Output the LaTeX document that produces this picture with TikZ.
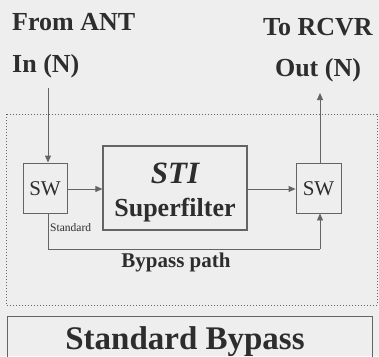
\documentclass[tikz,border=0pt]{standalone}
\usepackage{fontspec}
\setmainfont{Liberation Serif}
\usetikzlibrary{arrows.meta}
\definecolor{bg}{RGB}{238,238,238}
\definecolor{txt}{RGB}{45,45,45}
\definecolor{ln}{RGB}{100,100,100}
\begin{document}
\begin{tikzpicture}[x=1pt,y=-1pt,
  lbl/.style={inner sep=0pt,anchor=base,text=txt,font=\bfseries\fontsize{26}{26}\selectfont},
  swbox/.style={draw=ln,line width=0.9pt,minimum width=44pt,minimum height=50pt,inner sep=0pt,text=txt},
  conn/.style={draw=ln,line width=0.9pt,-{Triangle[length=7pt,width=6pt]}},
  wire/.style={draw=ln,line width=0.9pt}]
\useasboundingbox[fill=bg] (0,0) rectangle (379,356);
% frames
\draw[ln,line width=1pt,dotted] (6,114) rectangle (377,305);
\draw[ln,line width=1pt] (7,360) -- (7,316) -- (372,316) -- (372,360);
% top labels
\node[lbl,anchor=base west] (from) at (12,30) {From ANT};
\node[lbl,anchor=base west] (in) at (12,72) {In (N)};
\node[lbl] (to) at (318,35) {To RCVR};
\node[lbl] (out) at (318,76) {Out (N)};
% boxes
\node[swbox] (swL) at (45,188) {};
\node[inner sep=0pt,anchor=base,text=txt,font=\fontsize{21}{21}\selectfont] (swLt) at (45,195) {SW};
\node[swbox,minimum width=45pt] (swR) at (318.5,188) {};
\node[inner sep=0pt,anchor=base,text=txt,font=\fontsize{21}{21}\selectfont] (swRt) at (318.5,195) {SW};
\node[draw=ln,line width=1.2pt,minimum width=144pt,minimum height=84pt,inner sep=0pt] (sti) at (175,188) {};
\node[lbl,font=\bfseries\itshape\fontsize{31}{31}\selectfont] (stit) at (175,183) {STI};
\node[lbl] (sup) at (175,216) {Superfilter};
% connectors
\coordinate (inp) at (48,88);
\coordinate (outp) at (320,93);
\coordinate (b1) at (48,249);
\coordinate (b2) at (320,249);
\draw[conn] (inp) -- (inp |- swL.north);
\draw[conn] (swL.east |- 0,189) -- (sti.west |- 0,189);
\draw[conn] (sti.east |- 0,189) -- (swR.west |- 0,189);
\draw[conn] (outp |- swR.north) -- (outp);
\draw[wire] (b1 |- swL.south) -- (b1) -- (b2);
\draw[conn] (b2) -- (b2 |- swR.south);
% small labels
\node[inner sep=0pt,anchor=base west,text=txt,font=\fontsize{11.5}{11.5}\selectfont] (std) at (50,231) {Standard};
\node[lbl,font=\bfseries\fontsize{21}{21}\selectfont] (byp) at (176,267) {Bypass path};
\node[lbl,font=\bfseries\fontsize{33}{33}\selectfont] (title) at (185,349) {Standard Bypass};
\end{tikzpicture}
\end{document}
